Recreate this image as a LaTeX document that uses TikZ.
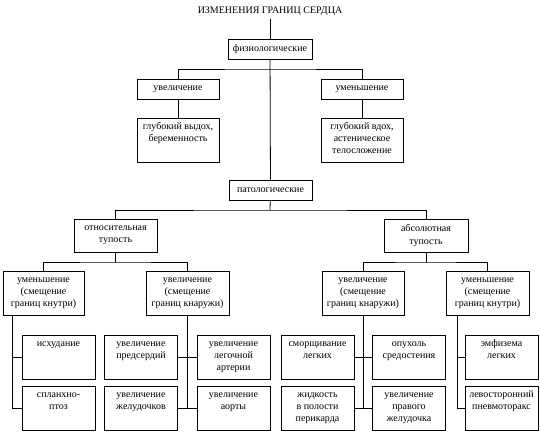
\documentclass[tikz,border=0pt]{standalone}
\usepackage{fontspec}
\setmainfont{Liberation Serif}
\newcommand\toptext[2]{\parbox[c][40pt][t]{#1}{\centering\rule{0pt}{9pt}#2}}
\tikzset{
  boxnode/.style={draw, line width=0.8pt, inner sep=2pt, align=center},
  topbox/.style={boxnode, minimum width=82pt, minimum height=20pt},
  groupbox/.style={boxnode, minimum width=83pt, minimum height=44pt},
  leafbox/.style={boxnode, minimum width=73pt, minimum height=44pt},
  link/.style={line width=0.8pt}
}
\begin{document}
\begin{tikzpicture}[x=1pt, y=-1pt, font=\fontsize{10}{12.2}\selectfont]
\useasboundingbox (0,0) rectangle (540,432);

\def\rowA{357}
\def\rowB{408}

\node (title) at (270,11) {ИЗМЕНЕНИЯ ГРАНИЦ СЕРДЦА};

\node[topbox, minimum width=84pt] (phys) at (270,49) {физиологические};
\node[topbox] (inc1) at (178,89) {увеличение};
\node[topbox] (dec1) at (362,89) {уменьшение};
\node[boxnode, inner sep=2pt] (exp)  at (178,140) {\toptext{78pt}{глубокий выдох,\\ беременность}};
\node[boxnode, inner sep=2pt] (insp) at (362,140) {\toptext{78pt}{глубокий вдох,\\ астеническое\\ телосложение}};

\node[topbox, minimum width=83pt] (path) at (270.5,190) {патологические};
\node[boxnode, minimum width=83pt, minimum height=33pt] (rel) at (115.5,235.5) {относительная\\ тупость};
\node[boxnode, minimum width=84pt, minimum height=33pt] (abs) at (426,235.5) {абсолютная\\ тупость};

\node[groupbox, minimum width=81pt] (dec2) at (43.5,293) {уменьшение\\ (смещение\\ границ кнутри)};
\node[groupbox] (inc2) at (187.5,293) {увеличение\\ (смещение\\ границ кнаружи)};
\node[groupbox, minimum width=82pt] (inc3) at (363,293) {увеличение\\ (смещение\\ границ кнаружи)};
\node[groupbox] (dec3) at (487.5,293) {уменьшение\\ (смещение\\ границ кнутри)};

% leaves
\node[boxnode] (L1a) at (58.5,\rowA) {\toptext{69pt}{исхудание}};
\node[boxnode] (L1b) at (58.5,\rowB) {\toptext{69pt}{спланхно-\\ птоз}};
\node[boxnode] (L2a) at (141,\rowA)  {\toptext{69pt}{увеличение\\ предсердий}};
\node[boxnode] (L2b) at (141,\rowB)  {\toptext{69pt}{увеличение\\ желудочков}};
\node[boxnode] (L3a) at (233.5,\rowA) {\toptext{69pt}{увеличение\\ легочной\\ артерии}};
\node[boxnode] (L3b) at (233.5,\rowB) {\toptext{69pt}{увеличение\\ аорты}};
\node[boxnode] (R1a) at (317.5,\rowA) {\toptext{69pt}{сморщивание\\ легких}};
\node[boxnode] (R1b) at (317.5,\rowB) {\toptext{69pt}{жидкость\\ в полости\\ перикарда}};
\node[boxnode] (R2a) at (409,\rowA)   {\toptext{69pt}{опухоль\\ средостения}};
\node[boxnode] (R2b) at (409,\rowB)   {\toptext{69pt}{увеличение\\ правого\\ желудочка}};
\node[boxnode] (R3a) at (501.5,\rowA) {\toptext{69pt}{эмфизема\\ легких}};
\node[boxnode] (R3b) at (501.5,\rowB) {\toptext{69pt}{левосторонний\\ пневмоторакс}};

\coordinate (j1) at (270,69);
\coordinate (j2) at (270,210);
\coordinate (j3) at (115.5,262);
\coordinate (j4) at (426,262);
\coordinate (t1) at (12,\rowB);
\coordinate (t4) at (457,\rowB);

\draw[link] (title) -- (phys);
\draw[link] (phys) -- (path);
\draw[link] (inc1) |- (j1) -| (dec1);
\draw[link] (inc1) -- (exp);
\draw[link] (dec1) -- (insp);

\draw[link] (path) -- (j2);
\draw[link] (rel) |- (j2) -| (abs);
\draw[link] (rel) -- (j3);
\draw[link] (dec2) |- (j3) -| (inc2);
\draw[link] (abs) -- (j4);
\draw[link] (inc3) |- (j4) -| (dec3);

\draw[link] (dec2.south -| t1) |- (L1b);
\draw[link] (t1 |- L1a) -- (L1a);
\draw[link] (inc2) -- (inc2 |- L2b);
\draw[link] (L2a) -- (L3a);
\draw[link] (L2b) -- (L3b);
\draw[link] (inc3) -- (inc3 |- R1b);
\draw[link] (R1a) -- (R2a);
\draw[link] (R1b) -- (R2b);
\draw[link] (dec3.south -| t4) |- (R3b);
\draw[link] (t4 |- R3a) -- (R3a);
\end{tikzpicture}
\end{document}
